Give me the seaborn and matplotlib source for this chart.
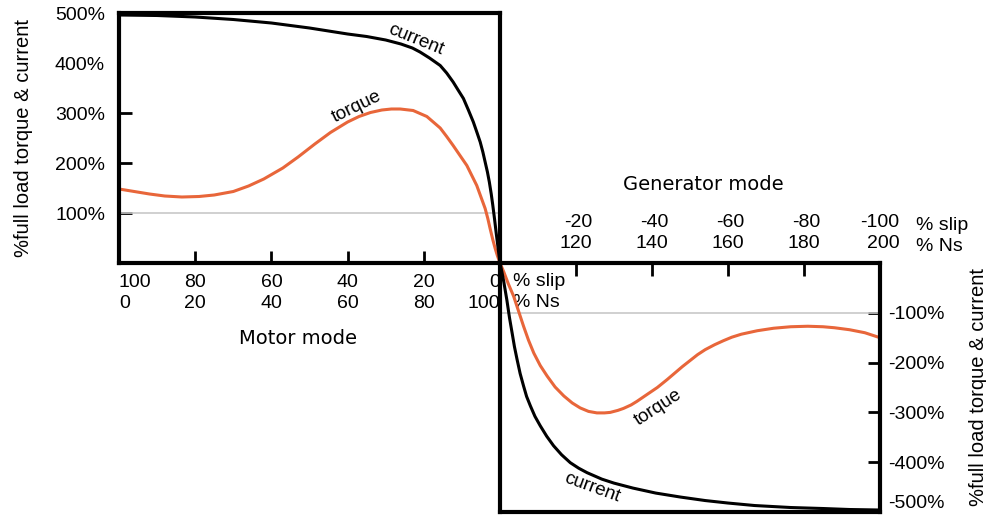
import matplotlib
matplotlib.use("Agg")
import matplotlib.pyplot as plt
import seaborn as sns

# motor mode (0..100 % Ns)
motor_current_ns = [0, 10, 20, 30, 40, 50, 60, 65, 70, 74, 77, 79, 81.5, 84.3, 86,
                    87.7, 89, 90.4, 91.7, 93, 94, 94.8, 95.5, 96.1, 96.7, 97.2,
                    97.7, 98.1, 98.6, 99.0, 99.5, 100]
motor_current = [496, 495, 492, 487, 480, 470, 458, 453, 446, 438, 430, 422, 410, 395,
                 380, 362, 346, 329, 306, 282, 260, 242, 222, 202, 182, 162, 138, 116,
                 86, 60, 30, 0]
motor_torque_ns = [0, 4, 8, 12, 16.5, 21, 25, 30, 34, 38, 43, 47, 51.4, 55.5, 60, 63,
                   66, 69, 71.5, 73.8, 77.2, 80.8, 84.3, 86, 87.7, 89.5, 91.3, 92.6,
                   93.9, 95, 96.1, 96.8, 97.4, 98.1, 98.7, 99.3, 100]
motor_torque = [148, 143, 138, 134, 132, 133, 136, 143, 154, 168, 190, 212, 238, 261,
                282, 293, 301, 306, 308, 308, 305, 293, 270, 253, 235, 215, 195, 175,
                155, 132, 109, 89, 69, 47, 30, 15, 0]

# generator mode (100..200 % Ns)
gen_current_ns = [100, 100.5, 101, 101.8, 102.5, 103.2, 103.8, 104.5, 105.3, 106.2, 107,
                  108, 109.2, 110.6, 112.3, 114.1, 116.2, 118.5, 120.7, 122.9, 126.8,
                  130, 135, 141, 147.5, 154, 160, 167, 176.5, 185, 192, 200]
gen_current = [0, -18, -38, -74, -110, -141, -168, -194, -222, -247, -268, -287, -308,
               -327, -348, -367, -385, -401, -412, -421, -434, -442, -452, -462, -470,
               -477, -482, -487, -491, -493, -495, -496]
gen_torque_ns = [100, 101, 102.2, 103.6, 104.9, 106.2, 107.5, 108.9, 110.6, 112.4, 114.5,
                 116.8, 119, 121.1, 123.3, 125.5, 127.5, 129, 131, 132.5, 134.5, 136,
                 138.5, 141.4, 144, 146, 148, 150, 152, 154, 156.5, 158.8, 161, 163.5,
                 167.7, 172, 176.5, 181, 185, 188, 192, 196, 200]
gen_torque = [0, -18, -42, -67, -97, -127, -155, -181, -206, -227, -249, -267, -281,
              -291, -298, -301, -301, -300, -296, -292, -285, -278, -265, -250, -234,
              -221, -208, -196, -184, -174, -164, -156, -149, -143, -136, -131, -128,
              -127, -128, -130, -134, -140, -150]

motor_ticks = [0, 20, 40, 60, 80, 100]
gen_ticks = [120, 140, 160, 180, 200]
motor_levels = [100, 200, 300, 400, 500]
gen_levels = [-500, -400, -300, -200, -100]

ylabel = "%full load torque & current"
orange = "#e8663a"

sns.set_style("white")
plt.rcParams["font.family"] = ["Liberation Sans", "DejaVu Sans"]
plt.rcParams["text.color"] = "black"
plt.rcParams["axes.labelcolor"] = "black"
plt.rcParams["xtick.color"] = "black"
plt.rcParams["ytick.color"] = "black"

fig = plt.figure(figsize=(9.86, 5.16), dpi=100)
W, H = 986, 516
ax1 = fig.add_axes([119 / W, (H - 263) / H, 381 / W, 250 / H])
ax2 = fig.add_axes([500 / W, (H - 512) / H, 380 / W, 249 / H])

for ax in (ax1, ax2):
    for sp in ax.spines.values():
        sp.set_visible(True)
        sp.set_linewidth(3)
        sp.set_color("black")
    ax.set_facecolor("none")

line_kw = dict(lw=2.2, sort=False, solid_joinstyle="round", solid_capstyle="round")

# motor box
ax1.axhline(100, color="#c8c8c8", lw=1.2, zorder=1)
sns.lineplot(x=motor_torque_ns, y=motor_torque, ax=ax1, color=orange, **line_kw)
sns.lineplot(x=motor_current_ns, y=motor_current, ax=ax1, color="black", **line_kw)
ax1.set_xlim(0, 100)
ax1.set_ylim(0, 500)
ax1.set_xticks(motor_ticks)
ax1.set_xticklabels([f"{100 - n}\n{n}" for n in motor_ticks], fontsize=14)
ax1.set_yticks(motor_levels)
ax1.set_yticklabels([f"{v}%" for v in motor_levels], fontsize=14)
ax1.tick_params(axis="x", direction="in", length=9, width=2, pad=8, bottom=True)
ax1.tick_params(axis="y", direction="in", length=9, width=2, pad=10, left=True)
xt = ax1.xaxis.get_major_ticks()
for i in (0, len(xt) - 1):
    xt[i].tick1line.set_visible(False)
for lab in ax1.get_xticklabels():
    lab.set_multialignment("right")
    lab.set_linespacing(1.3)
xl = ax1.get_xticklabels()
xl[0].set_ha("left")
xl[0].set_multialignment("left")
xl[-1].set_ha("right")
yt = ax1.yaxis.get_major_ticks()
yt[3].tick1line.set_visible(False)
yt[4].tick1line.set_visible(False)
ax1.set_xlabel("")
ax1.set_ylabel(ylabel, fontsize=14.5, labelpad=15.5)
ax1.annotate("% slip\n% Ns", xy=(1, 0), xycoords="axes fraction", xytext=(9.5, -7),
             textcoords="offset points", ha="left", va="top", fontsize=14,
             linespacing=1.3)
ax1.text(78, 447, "current", rotation=-22, ha="center", va="center", fontsize=13.5)
ax1.text(62.5, 312, "torque", rotation=26, ha="center", va="center", fontsize=13.5)

# generator box
ax2.axhline(-100, color="#c8c8c8", lw=1.2, zorder=1)
sns.lineplot(x=gen_torque_ns, y=gen_torque, ax=ax2, color=orange, **line_kw)
sns.lineplot(x=gen_current_ns, y=gen_current, ax=ax2, color="black", **line_kw)
ax2.set_xlim(100, 200)
ax2.set_ylim(-500, 0)
ax2.xaxis.tick_top()
ax2.set_xticks(gen_ticks)
ax2.set_xticklabels([f"{100 - n}\n{n}" for n in gen_ticks], fontsize=14)
for lab in ax2.get_xticklabels():
    lab.set_multialignment("right")
    lab.set_linespacing(1.3)
ax2.yaxis.tick_right()
ax2.set_yticks(gen_levels)
ax2.set_yticklabels([f"{v}%" for v in gen_levels], fontsize=14)
ax2.get_yticklabels()[0].set_va("bottom")
ax2.tick_params(axis="x", direction="in", length=9, width=2, pad=8, top=True, bottom=False)
ax2.tick_params(axis="y", direction="in", length=9, width=2, pad=6, right=True, left=False)
ax2.xaxis.get_major_ticks()[-1].tick2line.set_visible(False)
ax2.yaxis.get_major_ticks()[0].tick2line.set_visible(False)
ax2.set_xlabel("")
ax2.yaxis.set_label_position("right")
ax2.set_ylabel(ylabel, fontsize=14.5, labelpad=17, rotation=90)
ax2.annotate("% slip\n% Ns", xy=(1, 1), xycoords="axes fraction", xytext=(26, 6),
             textcoords="offset points", ha="left", va="bottom", fontsize=14,
             linespacing=1.3)
ax2.text(141.7, -290, "torque", rotation=33, ha="center", va="center", fontsize=13.5)
ax2.text(124.3, -452, "current", rotation=-20, ha="center", va="center", fontsize=13.5)

fig.text(298 / W, 1 - 338 / H, "Motor mode", ha="center", va="center",
         fontsize=14, family="DejaVu Sans")
fig.text(703 / W, 1 - 185 / H, "Generator mode", ha="center", va="center",
         fontsize=14, family="DejaVu Sans")

fig.savefig("out.png", dpi=100)
